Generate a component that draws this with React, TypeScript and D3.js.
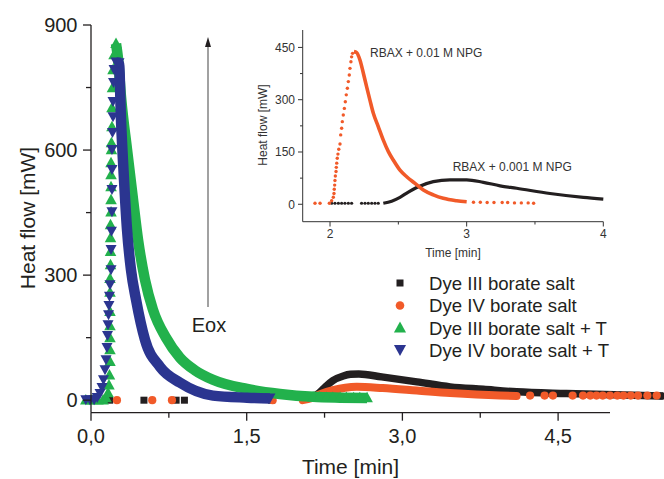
import React from 'react';
import * as d3 from 'd3';

const W = 664;
const H = 479;

// ---------- main chart axes ----------
const xMajorMain = [0, 1.5, 3, 4.5];
const xMajorLabels = ['0,0', '1,5', '3,0', '4,5'];
const xMinorMain = [0.75, 2.25, 3.75];
const yMajorMain = [0, 300, 600, 900];
const yMinorMain = [150, 450, 750];

// ---------- main chart data [time (min), heat flow (mW)] ----------
const dye3Sparse: [number, number][] = [[0.18, 0], [0.51, 0], [0.82, 0], [0.9, 0], [1.74, 0]];
const dye3Curve: [number, number][] = [
  [2.06, 2], [2.18, 14], [2.25, 30], [2.33, 47], [2.43, 58], [2.5, 62], [2.58, 63], [2.8, 56],
  [3.14, 44], [3.46, 32], [3.78, 26], [4.1, 20], [4.58, 16], [5.22, 12], [5.51, 10],
];
const dye4Sparse: [number, number][] = [
  [0.25, 0], [0.59, 0], [0.78, 0], [1.75, 0],
  [4.23, 11], [4.37, 11], [4.45, 11], [4.64, 11], [4.74, 11], [4.81, 11], [4.87, 11], [4.93, 11],
  [5.0, 11], [5.07, 11], [5.13, 11], [5.2, 11], [5.27, 11], [5.36, 11], [5.45, 11],
];
const dye4Curve: [number, number][] = [
  [2.04, 0], [2.12, 5], [2.2, 14], [2.33, 24], [2.45, 30], [2.56, 32], [2.81, 29], [3.14, 23],
  [3.46, 17], [3.94, 11], [4.1, 10],
];
const dye3TRise: [number, number][] = [
  [-0.05, 0], [0.01, 0], [0.067, 0], [0.116, 0], [0.145, 5], [0.164, 17], [0.173, 36], [0.178, 60],
  [0.183, 92], [0.183, 120], [0.183, 149], [0.183, 178], [0.183, 212], [0.183, 258], [0.183, 291],
  [0.188, 324], [0.188, 356], [0.188, 389], [0.188, 420], [0.193, 451], [0.193, 480], [0.193, 511],
  [0.193, 540], [0.193, 569], [0.197, 600], [0.197, 617], [0.202, 655], [0.202, 701], [0.207, 749],
  [0.212, 792], [0.222, 828], [0.241, 855],
];
const dye3TDecay: [number, number][] = [
  [0.241, 855], [0.26, 820], [0.289, 728], [0.347, 601], [0.405, 481], [0.453, 385], [0.52, 289],
  [0.597, 217], [0.722, 150], [0.857, 102], [1.0, 72], [1.175, 49], [1.503, 27], [1.82, 15],
  [2.14, 8], [2.4, 6], [2.66, 5],
];
const dye3TTail: [number, number][] = [
  [2.14, 7], [2.2, 7], [2.27, 6], [2.33, 6], [2.4, 6], [2.46, 6], [2.53, 5], [2.59, 5], [2.66, 5],
];
const dye4TRise: [number, number][] = [
  [-0.05, 0], [-0.01, 0], [0.03, 0], [0.06, 5], [0.087, 15], [0.106, 29], [0.12, 48], [0.135, 72],
  [0.145, 96], [0.154, 125], [0.159, 154], [0.164, 180], [0.169, 204], [0.173, 226], [0.178, 248],
  [0.183, 276], [0.193, 312], [0.193, 360], [0.197, 404], [0.202, 451], [0.202, 504], [0.202, 552],
  [0.202, 600], [0.207, 641], [0.212, 679], [0.212, 715], [0.217, 761], [0.222, 792],
  [0.241, 810], [0.27, 808],
];
const dye4TDecay: [number, number][] = [
  [0.241, 810], [0.27, 808], [0.289, 673], [0.318, 529], [0.347, 409], [0.385, 313], [0.434, 241],
  [0.52, 145], [0.665, 80], [0.857, 42], [1.175, 11], [1.503, 6], [1.724, 4],
];

// ---------- inset ----------
const xMajorInset = [2, 3, 4];
const xMinorInset = [2.5, 3.5];
const yMajorInset = [0, 150, 300, 450];
const yMinorInset = [75, 225, 375];

const npg01Dots: [number, number][] = [
  [1.89, 3], [1.927, 3], [1.995, 3], [2.012, 10], [2.024, 20], [2.029, 31], [2.031, 43], [2.034, 55],
  [2.036, 68], [2.039, 81], [2.044, 94], [2.046, 106], [2.049, 118], [2.053, 132], [2.058, 144],
  [2.064, 158], [2.073, 173], [2.078, 199], [2.085, 218], [2.09, 237], [2.097, 256], [2.105, 275],
  [2.112, 294], [2.119, 314], [2.127, 333], [2.134, 352], [2.141, 371], [2.146, 390], [2.153, 409],
  [2.158, 423], [2.165, 433],
  [3.05, 6], [3.1, 6], [3.15, 5], [3.2, 5], [3.26, 5], [3.3, 5], [3.35, 4], [3.4, 4], [3.45, 4], [3.49, 3],
];
const npg01Curve: [number, number][] = [
  [2.175, 438], [2.195, 435], [2.219, 414], [2.244, 376], [2.268, 337], [2.292, 299], [2.317, 261],
  [2.353, 223], [2.39, 184], [2.427, 151], [2.463, 127], [2.512, 98], [2.561, 79], [2.622, 60],
  [2.683, 41], [2.756, 27], [2.829, 17], [2.927, 10], [3.0, 7],
];
const npg001Dots: [number, number][] = [
  [2.012, 3], [2.036, 3], [2.061, 3], [2.085, 3], [2.109, 3], [2.134, 3], [2.158, 3],
  [2.231, 3], [2.256, 3], [2.28, 3], [2.305, 3], [2.329, 3], [2.353, 3],
];
const npg001Curve: [number, number][] = [
  [2.39, 3], [2.451, 9], [2.512, 20], [2.573, 35], [2.634, 48], [2.756, 65], [2.878, 70], [3.0, 70],
  [3.122, 63], [3.244, 53], [3.366, 46], [3.61, 31], [3.854, 20], [4.0, 15],
];

const legendLabels = [
  'Dye III borate salt',
  'Dye IV borate salt',
  'Dye III borate salt + T',
  'Dye IV borate salt + T',
];

const C_BLACK = '#231f20';
const C_ORANGE = '#f15a29';
const C_GREEN = '#22b14c';
const C_BLUE = '#2b3590';
const FONT = "'Liberation Sans', Arial, Helvetica, sans-serif";

const triUp = (s: number) => `M0,${-0.6 * s}L${0.55 * s},${0.4 * s}L${-0.55 * s},${0.4 * s}Z`;
const triDown = (s: number) => `M${-0.55 * s},${-0.5 * s}L${0.55 * s},${-0.5 * s}L0,${0.5 * s}Z`;

export default function App() {
  const mx = d3.scaleLinear().domain([0, 5]).range([91, 610]);
  const my = d3.scaleLinear().domain([-30, 900]).range([412.7, 25]);
  const ix = d3.scaleLinear().domain([1.8, 4]).range([302.7, 603.3]);
  const iy = d3.scaleLinear().domain([-50, 500]).range([221.7, 30]);

  const mLine = d3.line<[number, number]>().x(d => mx(d[0])).y(d => my(d[1])).curve(d3.curveMonotoneX);
  const iLine = d3.line<[number, number]>().x(d => ix(d[0])).y(d => iy(d[1])).curve(d3.curveMonotoneX);

  const sq = (pts: [number, number][], key: string) =>
    pts.map((d, i) => (
      <rect key={key + i} x={mx(d[0]) - 3.5} y={my(d[1]) - 3.5} width={7} height={7} fill={C_BLACK} />
    ));
  const circ = (pts: [number, number][], key: string) =>
    pts.map((d, i) => <circle key={key + i} cx={mx(d[0])} cy={my(d[1])} r={4.1} fill={C_ORANGE} />);
  const up = (pts: [number, number][], key: string) =>
    pts.map((d, i) => (
      <path key={key + i} d={triUp(10.5)} transform={`translate(${mx(d[0])},${my(d[1])})`} fill={C_GREEN} />
    ));
  const down = (pts: [number, number][], key: string) =>
    pts.map((d, i) => (
      <path key={key + i} d={triDown(10)} transform={`translate(${mx(d[0])},${my(d[1])})`} fill={C_BLUE} />
    ));

  return (
    <svg width={W} height={H} style={{ position: 'absolute', left: 0, top: 0, background: '#fff' }} fontFamily={FONT}>
      <rect x={0} y={0} width={W} height={H} fill="#fff" />

      {/* ---------- main data ---------- */}
      <path d={mLine(dye3Curve) || ''} fill="none" stroke={C_BLACK} strokeWidth={7.5} strokeLinejoin="round" />
      {sq(dye3Sparse, 'bs')}
      {sq([dye3Curve[0], dye3Curve[dye3Curve.length - 1]], 'bc')}
      <path d={mLine(dye4Curve) || ''} fill="none" stroke={C_ORANGE} strokeWidth={8} strokeLinejoin="round" strokeLinecap="round" />
      {circ(dye4Sparse, 'os')}
      <path d={mLine(dye3TDecay) || ''} fill="none" stroke={C_GREEN} strokeWidth={10.5} strokeLinejoin="round" />
      {up(dye3TRise, 'gr')}
      {up(dye3TTail, 'gt')}
      <path d={mLine(dye4TDecay) || ''} fill="none" stroke={C_BLUE} strokeWidth={10.5} strokeLinejoin="round" />
      {down(dye4TRise, 'dr')}
      {down([dye4TDecay[dye4TDecay.length - 1]], 'dd')}

      {/* ---------- main axes ---------- */}
      <line x1={mx(0)} x2={mx(0)} y1={my(900)} y2={412.7} stroke={C_BLACK} strokeWidth={1.3} />
      <line x1={mx(0)} x2={mx(5)} y1={412.7} y2={412.7} stroke={C_BLACK} strokeWidth={1.3} />
      {yMajorMain.map(v => (
        <g key={'ym' + v}>
          <line x1={mx(0) - 8} x2={mx(0)} y1={my(v)} y2={my(v)} stroke={C_BLACK} strokeWidth={1.3} />
          <text x={77.5} y={my(v) + 7} textAnchor="end" fontSize={20} fill={C_BLACK}>{v}</text>
        </g>
      ))}
      {yMinorMain.map(v => (
        <line key={'yn' + v} x1={mx(0) - 5} x2={mx(0)} y1={my(v)} y2={my(v)} stroke={C_BLACK} strokeWidth={1.3} />
      ))}
      {xMajorMain.map((v, i) => (
        <g key={'xm' + v}>
          <line x1={mx(v)} x2={mx(v)} y1={412.7} y2={420.7} stroke={C_BLACK} strokeWidth={1.3} />
          <text x={mx(v)} y={443} textAnchor="middle" fontSize={20} fill={C_BLACK}>{xMajorLabels[i]}</text>
        </g>
      ))}
      {xMinorMain.map(v => (
        <line key={'xn' + v} x1={mx(v)} x2={mx(v)} y1={412.7} y2={417.7} stroke={C_BLACK} strokeWidth={1.3} />
      ))}
      <text x={350.5} y={474} textAnchor="middle" fontSize={21} fill={C_BLACK}>Time [min]</text>
      <text transform="translate(35,218) rotate(-90)" textAnchor="middle" fontSize={21} fill={C_BLACK}>Heat flow [mW]</text>

      {/* ---------- Eox arrow ---------- */}
      <line x1={208} x2={208} y1={307} y2={44} stroke="#8a8a8a" strokeWidth={1.6} />
      <path d="M208,37L211,47L205,47Z" fill={C_BLACK} />
      <text x={209} y={332} textAnchor="middle" fontSize={20} fill={C_BLACK}>Eox</text>

      {/* ---------- legend ---------- */}
      {legendLabels.map((lab, i) => {
        const y = 283 + i * 22.5;
        return (
          <g key={'lg' + i}>
            {i === 0 && <rect x={396.5} y={y - 3.5} width={7} height={7} fill={C_BLACK} />}
            {i === 1 && <circle cx={400} cy={y} r={4.3} fill={C_ORANGE} />}
            {i === 2 && <path d={triUp(11)} transform={`translate(400,${y})`} fill={C_GREEN} />}
            {i === 3 && <path d={triDown(11)} transform={`translate(400,${y})`} fill={C_BLUE} />}
            <text x={429} y={y + 6.5} fontSize={18.6} fill={C_BLACK}>{lab}</text>
          </g>
        );
      })}

      {/* ---------- inset ---------- */}
      <path d={iLine(npg001Curve) || ''} fill="none" stroke={C_BLACK} strokeWidth={3.2} strokeLinejoin="round" />
      {npg001Dots.map((d, i) => (
        <circle key={'ib' + i} cx={ix(d[0])} cy={iy(d[1])} r={1.6} fill={C_BLACK} />
      ))}
      <path d={iLine(npg01Curve) || ''} fill="none" stroke={C_ORANGE} strokeWidth={3.6} strokeLinejoin="round" />
      {npg01Dots.map((d, i) => (
        <circle key={'io' + i} cx={ix(d[0])} cy={iy(d[1])} r={1.7} fill={C_ORANGE} />
      ))}

      <line x1={302.7} x2={302.7} y1={30} y2={221.7} stroke="#333" strokeWidth={1} />
      <line x1={302.7} x2={603.3} y1={221.7} y2={221.7} stroke="#333" strokeWidth={1} />
      {yMajorInset.map(v => (
        <g key={'iym' + v}>
          <line x1={298} x2={302.7} y1={iy(v)} y2={iy(v)} stroke="#333" strokeWidth={1} />
          <text x={295} y={iy(v) + 4.3} textAnchor="end" fontSize={12} fill="#333">{v}</text>
        </g>
      ))}
      {yMinorInset.map(v => (
        <line key={'iyn' + v} x1={300} x2={302.7} y1={iy(v)} y2={iy(v)} stroke="#333" strokeWidth={1} />
      ))}
      {xMajorInset.map(v => (
        <g key={'ixm' + v}>
          <line x1={ix(v)} x2={ix(v)} y1={221.7} y2={226.5} stroke="#333" strokeWidth={1} />
          <text x={ix(v)} y={238} textAnchor="middle" fontSize={12} fill="#333">{v}</text>
        </g>
      ))}
      {xMinorInset.map(v => (
        <line key={'ixn' + v} x1={ix(v)} x2={ix(v)} y1={221.7} y2={224.5} stroke="#333" strokeWidth={1} />
      ))}
      <text x={453} y={257} textAnchor="middle" fontSize={12} fill="#333">Time [min]</text>
      <text transform="translate(267,125) rotate(-90)" textAnchor="middle" fontSize={12} fill="#333">Heat flow [mW]</text>
      <text x={370} y={57} fontSize={12} fill="#333">RBAX + 0.01 M NPG</text>
      <text x={452.7} y={170.7} fontSize={12} fill="#333">RBAX + 0.001 M NPG</text>
    </svg>
  );
}
